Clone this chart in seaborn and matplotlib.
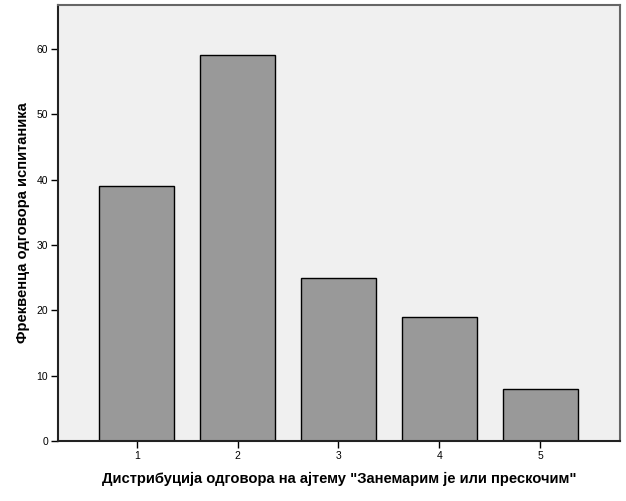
import matplotlib
matplotlib.use("Agg")
import matplotlib.pyplot as plt
import seaborn as sns
import pandas as pd

# Response categories and their frequencies
categories = ["1", "2", "3", "4", "5"]
counts = [39, 59, 25, 19, 8]
y_ticks = [0, 10, 20, 30, 40, 50, 60]

df = pd.DataFrame({"odgovor": categories, "frekvencija": counts})

sns.set_style("white")
plt.rcParams["font.family"] = ["Liberation Sans", "DejaVu Sans"]
plt.rcParams["text.color"] = "black"
plt.rcParams["axes.labelcolor"] = "black"
plt.rcParams["xtick.color"] = "black"
plt.rcParams["ytick.color"] = "black"

fig = plt.figure(figsize=(6.26, 5.01), dpi=100)
ax = fig.add_axes([58 / 626, 60 / 501, 562 / 626, 436 / 501])
ax.set_facecolor("#f0f0f0")

sns.barplot(data=df, x="odgovor", y="frekvencija", color="#999999",
            saturation=1, width=0.74, edgecolor="black", linewidth=1, ax=ax)

ax.set_xlim(-0.78, 4.79)
ax.set_ylim(0, 66.7)
ax.set_yticks(y_ticks)

ax.tick_params(axis="both", direction="out", length=5, width=1,
               color="black", labelcolor="black", labelsize=7.5, pad=2,
               left=True, bottom=True)

for side in ["top", "right"]:
    ax.spines[side].set_color("#666666")
    ax.spines[side].set_linewidth(1.5)
for side in ["left", "bottom"]:
    ax.spines[side].set_color("#222222")
    ax.spines[side].set_linewidth(1.5)

ax.set_xlabel("Дистрибуција одговора на ајтему \"Занемарим је или прескочим\"",
              fontsize=10.6, fontweight="bold", labelpad=8, color="black")
ax.set_ylabel("Фреквенца одговора испитаника", fontsize=10.6,
              fontweight="bold", labelpad=5, color="black")

fig.savefig("out.png", dpi=100)
